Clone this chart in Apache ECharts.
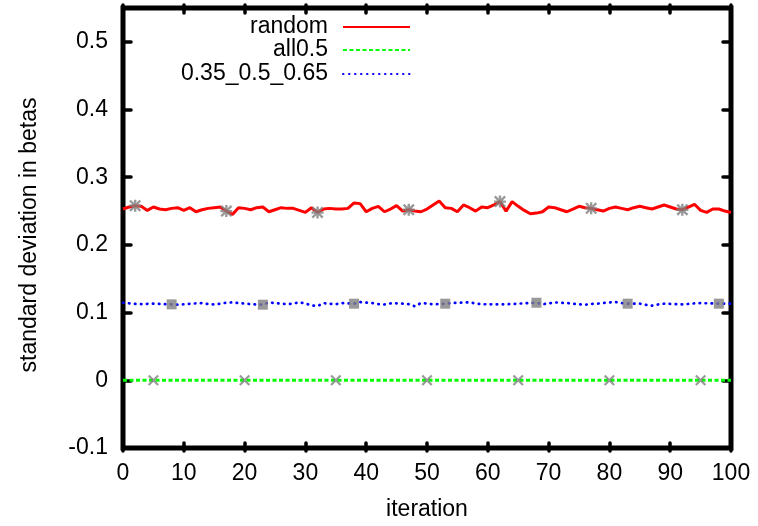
<!DOCTYPE html>
<html>
<head>
<meta charset="utf-8">
<script src="https://cdn.jsdelivr.net/npm/echarts@6/dist/echarts.min.js"></script>
<style>
html,body{margin:0;padding:0;background:#fff;}
#chart{width:758px;height:526px;}
</style>
</head>
<body>
<div id="chart"></div>
<script>
const iteration = [0,1,2,3,4,5,6,7,8,9,10,11,12,13,14,15,16,17,18,19,20,21,22,23,24,25,26,27,28,29,30,31,32,33,34,35,36,37,38,39,40,41,42,43,44,45,46,47,48,49,50,51,52,53,54,55,56,57,58,59,60,61,62,63,64,65,66,67,68,69,70,71,72,73,74,75,76,77,78,79,80,81,82,83,84,85,86,87,88,89,90,91,92,93,94,95,96,97,98,99,100];

const randomStd = [0.253,0.256,0.258,0.257,0.251,0.256,0.253,0.252,0.254,0.255,
  0.251,0.255,0.249,0.252,0.254,0.255,0.256,0.250,0.245,0.255,
  0.254,0.252,0.255,0.256,0.249,0.252,0.255,0.254,0.254,0.251,
  0.248,0.255,0.248,0.253,0.254,0.253,0.253,0.254,0.262,0.261,
  0.249,0.254,0.257,0.249,0.253,0.258,0.250,0.252,0.250,0.249,
  0.253,0.259,0.265,0.255,0.254,0.249,0.259,0.255,0.250,0.256,
  0.255,0.259,0.264,0.250,0.264,0.257,0.251,0.246,0.247,0.249,
  0.256,0.255,0.252,0.249,0.253,0.257,0.255,0.254,0.252,0.250,
  0.254,0.256,0.254,0.252,0.255,0.257,0.255,0.253,0.256,0.259,
  0.256,0.253,0.252,0.256,0.260,0.251,0.248,0.253,0.253,0.250,
  0.248];

const all05Std = [0,0,0,0,0,0,0,0,0,0,0,0,0,0,0,0,0,0,0,0,0,0,0,0,0,0,0,0,0,0,0,0,0,0,0,0,0,0,0,0,0,0,0,0,0,0,0,0,0,0,0,0,0,0,0,0,0,0,0,0,0,0,0,0,0,0,0,0,0,0,0,0,0,0,0,0,0,0,0,0,0,0,0,0,0,0,0,0,0,0,0,0,0,0,0,0,0,0,0,0,0];

const mixedStd = [0.1146,0.1138,0.1130,0.1124,0.1130,0.1132,0.1128,0.1124,0.1122,0.1118,
  0.1124,0.1130,0.1136,0.1141,0.1126,0.1122,0.1132,0.1146,0.1151,0.1141,
  0.1136,0.1124,0.1120,0.1117,0.1151,0.1140,0.1132,0.1124,0.1135,0.1151,
  0.1135,0.1105,0.1098,0.1140,0.1130,0.1124,0.1141,0.1136,0.1132,0.1156,
  0.1148,0.1141,0.1126,0.1120,0.1136,0.1138,0.1132,0.1124,0.1093,0.1141,
  0.1135,0.1122,0.1128,0.1132,0.1141,0.1146,0.1150,0.1151,0.1135,0.1125,
  0.1122,0.1122,0.1122,0.1124,0.1128,0.1132,0.1138,0.1141,0.1146,0.1124,
  0.1135,0.1151,0.1146,0.1141,0.1132,0.1122,0.1117,0.1128,0.1132,0.1143,
  0.1150,0.1156,0.1141,0.1132,0.1132,0.1132,0.1115,0.1102,0.1120,0.1132,
  0.1128,0.1125,0.1122,0.1128,0.1136,0.1141,0.1138,0.1135,0.1132,0.1132,
  0.1132];

const randomMarks = [2,17,32,47,62,77,92];
const all05Marks = [5,20,35,50,65,80,95];
const mixedMarks = [8,23,38,53,68,83,98];

const seriesNames = ['random','all0.5','0.35_0.5_0.65'];
const yTicks = {min:-0.1, max:0.55, interval:0.1};
const xTicks = {min:0, max:100, interval:10};

const FONT = 'Liberation Sans, Arial, sans-serif';
const FS = 23;
const GRAY = '#808080';
const W = 758, H = 526;
const G = {left:123, right:27, top:8, bottom:75};
const plotW = W - G.left - G.right;
const plotH = H - G.top - G.bottom;

const starPath = 'path://M4,0H6V4H10V6H6V10H4V6H0V4H4Z M1.4,0L5,3.6L8.6,0L10,1.4L6.4,5L10,8.6L8.6,10L5,6.4L1.4,10L0,8.6L3.6,5L0,1.4Z';
const crossPath = 'path://M1.4,0L5,3.6L8.6,0L10,1.4L6.4,5L10,8.6L8.6,10L5,6.4L1.4,10L0,8.6L3.6,5L0,1.4Z';

function pairs(vals){ return iteration.map((x,i)=>[x, vals[i]]); }
function marks(idx, vals){ return idx.map(i=>[iteration[i], vals[i]]); }

// tick-only axes, placed on the opposite edge so that their outward ticks point into the plot
function tickAxis(range, position, offset){
  return {type:'value', min:range.min, max:range.max, interval:range.interval, position:position, offset:offset,
    axisLine:{show:false, onZero:false},
    axisTick:{show:true, inside:false, length:8, lineStyle:{color:'#000', width:3.5, cap:'round'}},
    splitLine:{show:false}, axisLabel:{show:false}};
}

function legendFor(name, top){
  return {
    data:[name], right:347, top:top, align:'right', orient:'horizontal',
    itemWidth:67, itemHeight:14, selectedMode:false, padding:0,
    itemStyle:{opacity:0},
    textStyle:{fontSize:FS, fontFamily:FONT, color:'#000', padding:[0,10,0,0], lineHeight:24}
  };
}

const chart = echarts.init(document.getElementById('chart'), null, {renderer:'canvas'});
chart.setOption({
  animation:false,
  backgroundColor:'#fff',
  grid:{left:G.left, right:G.right, top:G.top, bottom:G.bottom, show:true, borderColor:'#000', borderWidth:5, backgroundColor:'transparent'},
  legend:[legendFor(seriesNames[0],15), legendFor(seriesNames[1],38), legendFor(seriesNames[2],62)],
  xAxis:[
    {type:'value', min:xTicks.min, max:xTicks.max, interval:xTicks.interval, position:'bottom',
     name:'iteration', nameLocation:'middle', nameGap:50,
     nameTextStyle:{fontSize:FS, fontFamily:FONT, color:'#000'},
     axisLine:{show:false, onZero:false}, axisTick:{show:false}, splitLine:{show:false},
     axisLabel:{fontSize:FS, fontFamily:FONT, color:'#000', margin:14}},
    tickAxis(xTicks, 'top', -plotH),
    tickAxis(xTicks, 'bottom', -plotH)
  ],
  yAxis:[
    {type:'value', min:yTicks.min, max:yTicks.max, interval:yTicks.interval, position:'left',
     name:'standard deviation in betas', nameLocation:'middle', nameGap:82,
     nameTextStyle:{fontSize:FS, fontFamily:FONT, color:'#000', padding:[0,14,0,0]},
     axisLine:{show:false, onZero:false}, axisTick:{show:false}, splitLine:{show:false},
     axisLabel:{fontSize:FS, fontFamily:FONT, color:'#000', margin:15, showMaxLabel:false}},
    tickAxis(yTicks, 'right', -plotW),
    tickAxis(yTicks, 'left', -plotW)
  ],
  series:[
    {name:seriesNames[0], type:'line', data:pairs(randomStd), symbol:'none', showSymbol:false,
     lineStyle:{color:'#ff0000', width:3}, itemStyle:{color:'#ff0000'}, z:2},
    {name:seriesNames[1], type:'line', data:pairs(all05Std), symbol:'none', showSymbol:false,
     lineStyle:{color:'#00ff00', width:3, type:[4,2.5]}, itemStyle:{color:'#00ff00'}, z:2},
    {name:seriesNames[2], type:'line', data:pairs(mixedStd), symbol:'none', showSymbol:false,
     lineStyle:{color:'#0000ff', width:2.7, type:[0.5,5.5], cap:'round'}, itemStyle:{color:'#0000ff'}, z:2},
    {name:'random_pts', type:'scatter', data:marks(randomMarks, randomStd), symbol:starPath, symbolSize:12,
     itemStyle:{color:GRAY}, z:3},
    {name:'all05_pts', type:'scatter', data:marks(all05Marks, all05Std), symbol:crossPath, symbolSize:11,
     itemStyle:{color:GRAY}, z:3},
    {name:'mixed_pts', type:'scatter', data:marks(mixedMarks, mixedStd), symbol:'rect', symbolSize:10,
     itemStyle:{color:GRAY}, z:3}
  ]
});
</script>
</body>
</html>
